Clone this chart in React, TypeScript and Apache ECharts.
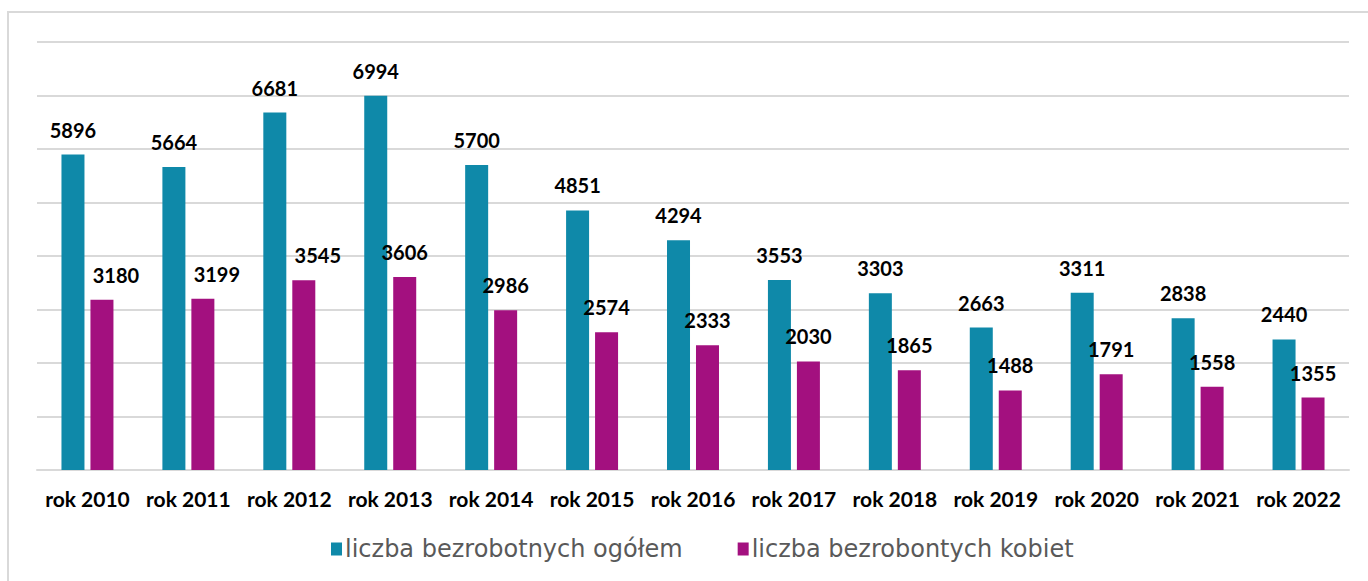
import React, { useEffect, useRef } from "react";
import * as echarts from "echarts";

const categories = [
  "rok 2010", "rok 2011", "rok 2012", "rok 2013", "rok 2014", "rok 2015", "rok 2016",
  "rok 2017", "rok 2018", "rok 2019", "rok 2020", "rok 2021", "rok 2022",
];
const totalUnemployed = [5896, 5664, 6681, 6994, 5700, 4851, 4294, 3553, 3303, 2663, 3311, 2838, 2440];
const womenUnemployed = [3180, 3199, 3545, 3606, 2986, 2574, 2333, 2030, 1865, 1488, 1791, 1558, 1355];
const seriesNames = ["liczba bezrobotnych ogółem", "liczba bezrobontych kobiet"];

const TEAL = "#0f89a9";
const MAGENTA = "#a3107f";

export default function App() {
  const ref = useRef<HTMLDivElement>(null);
  useEffect(() => {
    if (!ref.current) return;
    const chart = echarts.init(ref.current, undefined, { renderer: "svg" });
    const labelStyle = {
      show: true,
      position: "top" as const,
      distance: 15,
      color: "#000",
      fontFamily: "Lato",
      fontWeight: "bold" as const,
      fontSize: 20,
    };
    chart.setOption({
      animation: false,
      backgroundColor: "#fff",
      graphic: [
        {
          type: "rect",
          shape: { x: 8, y: 12, width: 1400, height: 620 },
          style: { fill: "none", stroke: "#d9d9d9", lineWidth: 2 },
          silent: true,
        },
      ],
      legend: {
        bottom: 15,
        left: 326,
        itemWidth: 11,
        itemHeight: 13,
        itemGap: 55,
        icon: "rect",
        textStyle: { color: "#595959", fontFamily: "DejaVu Sans", fontSize: 24, padding: [0, 0, 0, -2] },
        data: seriesNames,
      },
      grid: { left: 37, right: 19, top: 42, bottom: 111, containLabel: false },
      xAxis: {
        type: "category",
        data: categories,
        axisLine: { lineStyle: { color: "#d9d9d9", width: 2 } },
        axisTick: { show: false },
        axisLabel: {
          color: "#000",
          fontFamily: "Lato",
          fontWeight: "bold",
          fontSize: 21,
          margin: 18,
          interval: 0,
        },
      },
      yAxis: {
        type: "value",
        min: 0,
        max: 8000,
        interval: 1000,
        axisLabel: { show: false },
        axisLine: { show: false },
        axisTick: { show: false },
        splitLine: { lineStyle: { color: "#d9d9d9", width: 2 } },
      },
      series: [
        {
          name: seriesNames[0],
          type: "bar",
          barWidth: 23,
          barGap: "26%",
          itemStyle: { color: TEAL },
          label: labelStyle,
          data: totalUnemployed,
        },
        {
          name: seriesNames[1],
          type: "bar",
          barWidth: 23,
          barGap: "26%",
          itemStyle: { color: MAGENTA },
          label: labelStyle,
          data: womenUnemployed.map((v, i) =>
            i < 3 ? { value: v, label: { offset: [14, 0] } } : v
          ),
        },
      ],
    });
    return () => chart.dispose();
  }, []);
  return (
    <div
      ref={ref}
      style={{ position: "fixed", left: 0, top: 0, width: 1368, height: 581 }}
    />
  );
}
